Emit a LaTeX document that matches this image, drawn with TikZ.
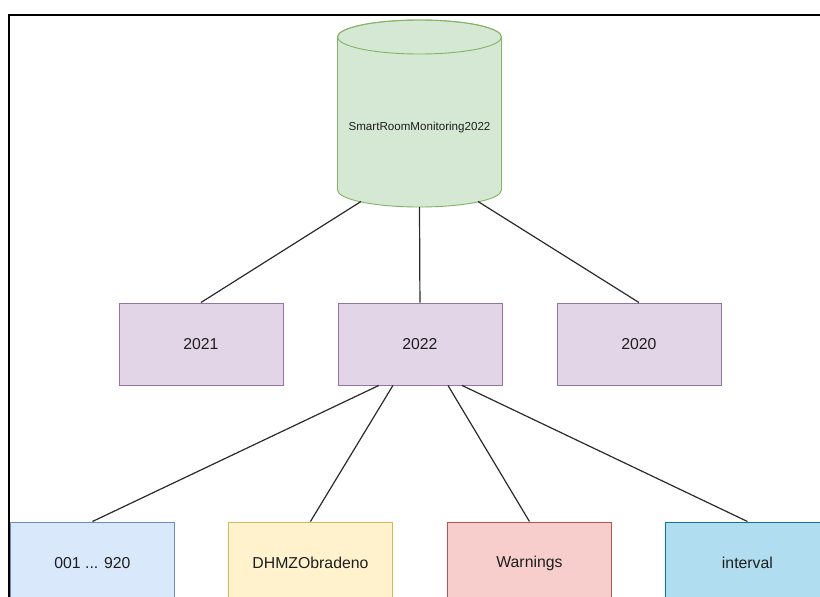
\documentclass[tikz,border=0pt]{standalone}
\usepackage{fontspec}
\setmainfont{Liberation Sans}
\usetikzlibrary{calc}
\definecolor{purF}{HTML}{E1D5E7}
\definecolor{purD}{HTML}{9673A6}
\definecolor{grnF}{HTML}{D5E8D4}
\definecolor{grnD}{HTML}{82B366}
\definecolor{bluF}{HTML}{DAE8FC}
\definecolor{bluD}{HTML}{6C8EBF}
\definecolor{yelF}{HTML}{FFF2CC}
\definecolor{yelD}{HTML}{D6B656}
\definecolor{redF}{HTML}{F8CECC}
\definecolor{redD}{HTML}{B85450}
\definecolor{cyaF}{HTML}{B1DDF0}
\definecolor{cyaD}{HTML}{10739E}
\definecolor{txt}{HTML}{1E1E1E}
\definecolor{lnk}{HTML}{2A2A2A}
\begin{document}
\begin{tikzpicture}[x=1pt,y=-1pt,
  box/.style={draw, line width=0.9pt, minimum width=164pt, minimum height=82pt,
    inner sep=0pt, anchor=north west, text=txt, font=\fontsize{15.8}{18}\selectfont},
  link/.style={line width=1.2pt, draw=lnk},
  frame/.style={line width=2pt, draw=black}]
\useasboundingbox (0,0) rectangle (820,597);
\clip (0,0) rectangle (820,597);
% cylinder
\path[fill=grnF, draw=grnD, line width=0.9pt]
  (337.5,37) -- (337.5,190)
  arc[start angle=180, end angle=360, x radius=82pt, y radius=17pt]
  -- (501.5,37)
  arc[start angle=0, end angle=180, x radius=82pt, y radius=17pt] -- cycle;
\draw[grnD, line width=0.9pt] (419.5,37) ellipse [x radius=82pt, y radius=17pt];
\node[text=txt, font=\fontsize{11.6}{14}\selectfont] (db) at (419.5,128) {SmartRoomMonitoring2022};
\coordinate (dbL) at (361,201.5);
\coordinate (dbM) at (419.5,207);
\coordinate (dbR) at (478,201.5);
% years
\node[box, fill=purF, draw=purD] (y2021) at (118.5,302.5) {2021};
\node[box, fill=purF, draw=purD] (y2022) at (337.5,302.5) {2022};
\node[box, fill=purF, draw=purD] (y2020) at (556.5,302.5) {2020};
% bottom row
\node[box, fill=bluF, draw=bluD] (b1) at (10,521.5) {001 ... 920};
\node[box, fill=yelF, draw=yelD] (b2) at (228,521.5) {DHMZObradeno};
\node[box, fill=redF, draw=redD] (b3) at (447,521.5) {Warnings};
\node[box, fill=cyaF, draw=cyaD] (b4) at (665,521.5) {interval};
% connectors
\draw[link] (dbL) -- (y2021.north);
\draw[link] (dbM) -- (y2022.north);
\draw[link] (dbR) -- (y2020.north);
\draw[link] ([xshift=-41pt]y2022.south) -- (b1.north);
\draw[link] ([xshift=-27pt]y2022.south) -- (b2.north);
\draw[link] ([xshift=28pt]y2022.south) -- (b3.north);
\draw[link] ([xshift=42pt]y2022.south) -- (b4.north);
% frame
\draw[frame] (8.5,600) -- (8.5,14.5) -- (825,14.5);
\end{tikzpicture}
\end{document}
